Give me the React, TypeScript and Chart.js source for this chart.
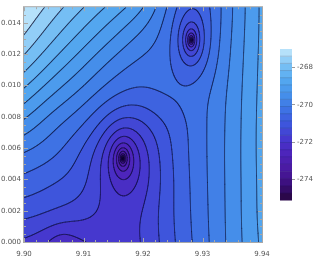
import React, { useEffect, useRef } from "react";
import { Chart, registerables } from "chart.js";

Chart.register(...registerables);

// ---- axes / ticks ----
const xTicks = [9.9, 9.91, 9.92, 9.93, 9.94];
const yTicks = [0, 0.002, 0.004, 0.006, 0.008, 0.01, 0.012, 0.014];
const xMinorTicks = [9.902, 9.904, 9.906, 9.908, 9.912, 9.914, 9.916, 9.918, 9.922, 9.924, 9.926, 9.928, 9.932, 9.934, 9.936, 9.938];
const yMinorTicks = [0.0005, 0.001, 0.0015, 0.0025, 0.003, 0.0035, 0.0045, 0.005, 0.0055, 0.0065, 0.007, 0.0075, 0.0085, 0.009, 0.0095, 0.0105, 0.011, 0.0115, 0.0125, 0.013, 0.0135, 0.0145];
const xRange = [9.9, 9.94];
const yRange = [0, 0.015];
const colorbarTicks = [-274, -272, -270, -268];
const zRange = [-275.1, -267.0];
const contourCount = 20;

// ---- field values on a 9 x 9 grid (rows bottom -> top; null = inside a well) ----
const gridXs = [9.9, 9.905, 9.91, 9.915, 9.92, 9.925, 9.93, 9.935, 9.94];
const gridYs = [0, 0.001875, 0.00375, 0.005625, 0.0075, 0.009375, 0.01125, 0.013125, 0.015];
const obsRow0 = [-271.7, -272.15, -272.05, -271.85, -271.65, -270.9, -270.25, -269.55, -268.85];
const obsRow1 = [-271.09, -271.24, -271.45, -271.8, -271.63, -270.86, -270.22, -269.55, -268.8];
const obsRow2 = [-270.63, -270.9, -271.1, null, -271.9, -270.86, -270.2, -269.55, -268.8];
const obsRow3 = [-270.15, -270.4, -271.0, null, -271.95, -270.8, -270.18, -269.55, -268.78];
const obsRow4 = [-269.45, -270.07, -270.47, null, -271.4, -270.76, -270.16, -269.57, -268.78];
const obsRow5 = [-268.72, -269.4, -269.9, -270.4, -270.6, -270.3, -270.2, -269.6, -268.8];
const obsRow6 = [-267.99, -268.71, -269.31, -269.9, -270.3, -270.4, null, -269.65, -268.82];
const obsRow7 = [-267.39, -268.1, -268.71, -269.3, -269.9, -270.47, null, -269.7, -268.84];
const obsRow8 = [-266.95, -267.6, -268.16, -268.7, -269.25, -270.34, -270.8, -269.73, -268.85];

// ---- wells (minima) ----
const wellX = [9.9166, 9.9281, 9.9064];
const wellY = [0.00535, 0.0129, -0.0003];
const wellStrength = [0.9, 0.9, 0.4];
const wellWidthX = [0.001, 0.001, 0.0025];
const wellWidthY = [0.00067, 0.000725, 0.0012];
const wellReach = [30, 30, 3];
const wellCore = [0.105, 0.074, 0.6];

// ---- colour map ----
const cmapStops = [0, 0.1, 0.2, 0.3, 0.4, 0.5, 0.6, 0.7, 0.8, 0.9, 1];
const cmapColors = ["#26063c", "#3a0e78", "#4a1aa0", "#4e23b9", "#4637cd", "#3e55dc", "#3e73e4", "#4691eb", "#55aaf0", "#7dc3f5", "#c8ebfc"];

const FONT = { family: "'DejaVu Sans', sans-serif", size: 7 };
const LABEL_COLOR = "#555555";
const FRAME_COLOR = "#a8a8a8";

function hexToRgb(h: string) {
  const n = parseInt(h.slice(1), 16);
  return [(n >> 16) & 255, (n >> 8) & 255, n & 255];
}
const cmapRgb = cmapColors.map(hexToRgb);
function cmap(t: number) {
  t = Math.max(0, Math.min(1, t));
  let i = 0;
  while (i < cmapStops.length - 2 && t > cmapStops[i + 1]) i++;
  const f = (t - cmapStops[i]) / (cmapStops[i + 1] - cmapStops[i]);
  const a = cmapRgb[i], b = cmapRgb[i + 1];
  return [0, 1, 2].map((k) => Math.round(a[k] + (b[k] - a[k]) * f));
}

const step = (zRange[1] - zRange[0]) / (contourCount + 1);
const levels: number[] = [];
for (let k = 1; k <= contourCount; k++) levels.push(zRange[0] + k * step);
const bandColors: number[][] = [];
for (let k = 0; k <= contourCount; k++) bandColors.push(cmap((k + 0.5) / (contourCount + 1)));

function wells(x: number, y: number) {
  let v = 0;
  for (let i = 0; i < wellX.length; i++) {
    const dx = (x - wellX[i]) / wellWidthX[i];
    const dy = (y - wellY[i]) / wellWidthY[i];
    const r2 = dx * dx + dy * dy + wellCore[i] * wellCore[i];
    v -= 0.5 * wellStrength[i] * Math.log(1 + (wellReach[i] * wellReach[i]) / r2);
  }
  return v;
}

// background = observed values minus the wells, filled inside wells from neighbours
const obsRows = [obsRow0, obsRow1, obsRow2, obsRow3, obsRow4, obsRow5, obsRow6, obsRow7, obsRow8];
const baseGrid: number[][] = obsRows.map((row, r) =>
  row.map((v, c) => (v === null ? NaN : (v as number) - wells(gridXs[c], gridYs[r])))
);
for (let it = 0; it < 30; it++) {
  obsRows.forEach((row, r) =>
    row.forEach((v, c) => {
      if (v !== null) return;
      const nb: number[] = [];
      for (const [dr, dc] of [[1, 0], [-1, 0], [0, 1], [0, -1]]) {
        const rr = r + dr, cc = c + dc;
        if (rr >= 0 && rr < obsRows.length && cc >= 0 && cc < gridXs.length && !isNaN(baseGrid[rr][cc])) nb.push(baseGrid[rr][cc]);
      }
      if (nb.length) baseGrid[r][c] = nb.reduce((s, q) => s + q, 0) / nb.length;
    })
  );
}

// smooth uniform cubic B-spline over the background grid
function bs(p0: number, p1: number, p2: number, p3: number, t: number) {
  const t2 = t * t, t3 = t2 * t;
  return ((1 - t) ** 3 * p0 + (3 * t3 - 6 * t2 + 4) * p1 + (-3 * t3 + 3 * t2 + 3 * t + 1) * p2 + t3 * p3) / 6;
}
function gridAt(r: number, c: number) {
  const rr = Math.max(0, Math.min(baseGrid.length - 1, r));
  const cc = Math.max(0, Math.min(gridXs.length - 1, c));
  let v = baseGrid[rr][cc];
  if (r !== rr) v += Math.abs(r - rr) * (baseGrid[rr][cc] - baseGrid[rr - Math.sign(r - rr)][cc]);
  if (c !== cc) v += Math.abs(c - cc) * (baseGrid[rr][cc] - baseGrid[rr][cc - Math.sign(c - cc)]);
  return v;
}
function base(x: number, y: number) {
  const gx = ((x - gridXs[0]) / (gridXs[gridXs.length - 1] - gridXs[0])) * (gridXs.length - 1);
  const gy = ((y - gridYs[0]) / (gridYs[gridYs.length - 1] - gridYs[0])) * (gridYs.length - 1);
  const ix = Math.max(0, Math.min(gridXs.length - 2, Math.floor(gx)));
  const iy = Math.max(0, Math.min(gridYs.length - 2, Math.floor(gy)));
  const tx = gx - ix, ty = gy - iy;
  const rows = [-1, 0, 1, 2].map((dr) =>
    bs(gridAt(iy + dr, ix - 1), gridAt(iy + dr, ix), gridAt(iy + dr, ix + 1), gridAt(iy + dr, ix + 2), tx)
  );
  return bs(rows[0], rows[1], rows[2], rows[3], ty);
}
function field(x: number, y: number) {
  return base(x, y) + wells(x, y);
}

// ---- contour lines (marching squares in data space) ----
function buildContours() {
  const nx = 480, ny = 472;
  const dx = (xRange[1] - xRange[0]) / nx;
  const dy = (yRange[1] - yRange[0]) / ny;
  const vals = new Float64Array((nx + 1) * (ny + 1));
  for (let j = 0; j <= ny; j++)
    for (let i = 0; i <= nx; i++) vals[j * (nx + 1) + i] = field(xRange[0] + i * dx, yRange[0] + j * dy);
  const result: { x: number; y: number }[][] = [];
  for (const L of levels) {
    const pts: { x: number; y: number }[] = [];
    for (let j = 0; j < ny; j++) {
      for (let i = 0; i < nx; i++) {
        const a = vals[j * (nx + 1) + i];
        const b = vals[j * (nx + 1) + i + 1];
        const c = vals[(j + 1) * (nx + 1) + i + 1];
        const d = vals[(j + 1) * (nx + 1) + i];
        const idx = (a > L ? 1 : 0) | (b > L ? 2 : 0) | (c > L ? 4 : 0) | (d > L ? 8 : 0);
        if (idx === 0 || idx === 15) continue;
        const x0 = xRange[0] + i * dx, y0 = yRange[0] + j * dy;
        const e = (k: number) => {
          if (k === 0) return { x: x0 + ((L - a) / (b - a)) * dx, y: y0 };
          if (k === 1) return { x: x0 + dx, y: y0 + ((L - b) / (c - b)) * dy };
          if (k === 2) return { x: x0 + ((L - d) / (c - d)) * dx, y: y0 + dy };
          return { x: x0, y: y0 + ((L - a) / (d - a)) * dy };
        };
        const seg = (p: number, q: number) => {
          pts.push(e(p), e(q), { x: NaN, y: NaN });
        };
        const center = (a + b + c + d) / 4;
        switch (idx) {
          case 1: case 14: seg(3, 0); break;
          case 2: case 13: seg(0, 1); break;
          case 3: case 12: seg(3, 1); break;
          case 4: case 11: seg(1, 2); break;
          case 6: case 9: seg(0, 2); break;
          case 7: case 8: seg(3, 2); break;
          case 5:
            if (center > L) { seg(3, 2); seg(0, 1); } else { seg(3, 0); seg(1, 2); }
            break;
          case 10:
            if (center > L) { seg(3, 0); seg(1, 2); } else { seg(3, 2); seg(0, 1); }
            break;
        }
      }
    }
    result.push(pts);
  }
  return result;
}

const heatPlugin = {
  id: "heat",
  beforeDatasetsDraw(chart: any) {
    const { ctx, chartArea, scales } = chart;
    const w = Math.round(chartArea.right - chartArea.left);
    const h = Math.round(chartArea.bottom - chartArea.top);
    if (!chart.$heat) {
      const off = document.createElement("canvas");
      off.width = w; off.height = h;
      const octx = off.getContext("2d")!;
      const img = octx.createImageData(w, h);
      for (let py = 0; py < h; py++) {
        const yv = scales.y.getValueForPixel(chartArea.top + py + 0.5);
        for (let px = 0; px < w; px++) {
          const xv = scales.x.getValueForPixel(chartArea.left + px + 0.5);
          const v = field(xv, yv);
          let k = Math.floor((v - zRange[0]) / step);
          k = Math.max(0, Math.min(contourCount, k));
          const col = bandColors[k];
          const o = (py * w + px) * 4;
          img.data[o] = col[0]; img.data[o + 1] = col[1]; img.data[o + 2] = col[2]; img.data[o + 3] = 255;
        }
      }
      octx.putImageData(img, 0, 0);
      chart.$heat = off;
    }
    ctx.drawImage(chart.$heat, chartArea.left, chartArea.top);
  },
  afterDraw(chart: any) {
    const { ctx, chartArea, scales } = chart;
    const { left, right, top, bottom } = chartArea;
    ctx.save();
    ctx.strokeStyle = FRAME_COLOR;
    ctx.lineWidth = 1;
    ctx.strokeRect(left - 0.5, top - 0.5, right - left + 1, bottom - top + 1);
    ctx.beginPath();
    const tickX = (vals: number[], len: number) => {
      for (const v of vals) {
        const p = Math.round(scales.x.getPixelForValue(v)) + 0.5;
        ctx.moveTo(p, bottom); ctx.lineTo(p, bottom - len);
        ctx.moveTo(p, top); ctx.lineTo(p, top + len);
      }
    };
    const tickY = (vals: number[], len: number) => {
      for (const v of vals) {
        const p = Math.round(scales.y.getPixelForValue(v)) + 0.5;
        ctx.moveTo(left, p); ctx.lineTo(left + len, p);
        ctx.moveTo(right, p); ctx.lineTo(right - len, p);
      }
    };
    tickX(xTicks, 4); tickX(xMinorTicks, 2);
    tickY(yTicks, 4); tickY(yMinorTicks, 2);
    ctx.stroke();
    ctx.restore();
  },
};

const barPlugin = {
  id: "bar",
  beforeDatasetsDraw(chart: any) {
    const { ctx, chartArea, scales } = chart;
    ctx.save();
    for (let k = 0; k <= contourCount; k++) {
      const lo = zRange[0] + k * step, hi = lo + step;
      const y1 = scales.y.getPixelForValue(hi), y2 = scales.y.getPixelForValue(lo);
      const c = bandColors[k];
      ctx.fillStyle = `rgb(${c[0]},${c[1]},${c[2]})`;
      ctx.fillRect(chartArea.left, y1, chartArea.right - chartArea.left, y2 - y1 + 0.5);
    }
    ctx.strokeStyle = "rgba(20,20,50,0.22)";
    ctx.lineWidth = 0.8;
    ctx.beginPath();
    for (const L of levels) {
      const p = scales.y.getPixelForValue(L);
      ctx.moveTo(chartArea.left, p); ctx.lineTo(chartArea.right, p);
    }
    ctx.stroke();
    ctx.restore();
  },
};

export default function App() {
  const mainRef = useRef<HTMLCanvasElement>(null);
  const barRef = useRef<HTMLCanvasElement>(null);
  useEffect(() => {
    const contours = buildContours();
    const main = new Chart(mainRef.current!, {
      type: "scatter",
      data: {
        datasets: contours.map((pts) => ({
          data: pts,
          showLine: true,
          spanGaps: false,
          pointRadius: 0,
          borderColor: "rgba(20,20,50,0.45)",
          borderWidth: 0.7,
          borderCapStyle: "round",
        })),
      },
      options: {
        animation: false,
        responsive: false,
        maintainAspectRatio: false,
        events: [],
        layout: { padding: { top: 6, right: 54, left: 0, bottom: 0 } },
        plugins: { legend: { display: false }, tooltip: { enabled: false } },
        scales: {
          x: {
            type: "linear",
            min: xRange[0],
            max: xRange[1],
            afterFit: (s: any) => { s.height = 18; },
            afterBuildTicks: (s: any) => { s.ticks = xTicks.map((v) => ({ value: v })); },
            ticks: { font: FONT, color: LABEL_COLOR, padding: 8, maxRotation: 0, callback: (v: any) => Number(v).toFixed(2) },
            grid: { display: false, drawTicks: false },
            border: { display: false },
          },
          y: {
            type: "linear",
            min: yRange[0],
            max: yRange[1],
            afterFit: (s: any) => { s.width = 24; },
            afterBuildTicks: (s: any) => { s.ticks = yTicks.map((v) => ({ value: v })); },
            ticks: { font: FONT, color: LABEL_COLOR, padding: 3, callback: (v: any) => Number(v).toFixed(3) },
            grid: { display: false, drawTicks: false },
            border: { display: false },
          },
        },
      } as any,
      plugins: [heatPlugin],
    });
    const bar = new Chart(barRef.current!, {
      type: "scatter",
      data: { datasets: [] },
      options: {
        animation: false,
        responsive: false,
        maintainAspectRatio: false,
        events: [],
        layout: { padding: { top: 9, left: 4, bottom: 10, right: 0 } },
        plugins: { legend: { display: false }, tooltip: { enabled: false } },
        scales: {
          x: { type: "linear", display: false, min: 0, max: 1 },
          y: {
            type: "linear",
            position: "right",
            min: zRange[0],
            max: zRange[1],
            afterFit: (s: any) => { s.width = 24; },
            afterBuildTicks: (s: any) => { s.ticks = colorbarTicks.map((v) => ({ value: v })); },
            ticks: { font: FONT, color: LABEL_COLOR, padding: 2, callback: (v: any) => String(v) },
            grid: { drawOnChartArea: false, drawTicks: true, tickLength: 3, color: "#999999" },
            border: { display: false },
          },
        },
      } as any,
      plugins: [barPlugin],
    });
    return () => { main.destroy(); bar.destroy(); };
  }, []);
  return (
    <div style={{ position: "absolute", left: 0, top: 0, width: 316, height: 260, background: "#fff" }}>
      <canvas ref={mainRef} width={316} height={260} style={{ position: "absolute", left: 0, top: 0, width: 316, height: 260 }} />
      <canvas ref={barRef} width={40} height={170} style={{ position: "absolute", left: 276, top: 40, width: 40, height: 170 }} />
    </div>
  );
}
